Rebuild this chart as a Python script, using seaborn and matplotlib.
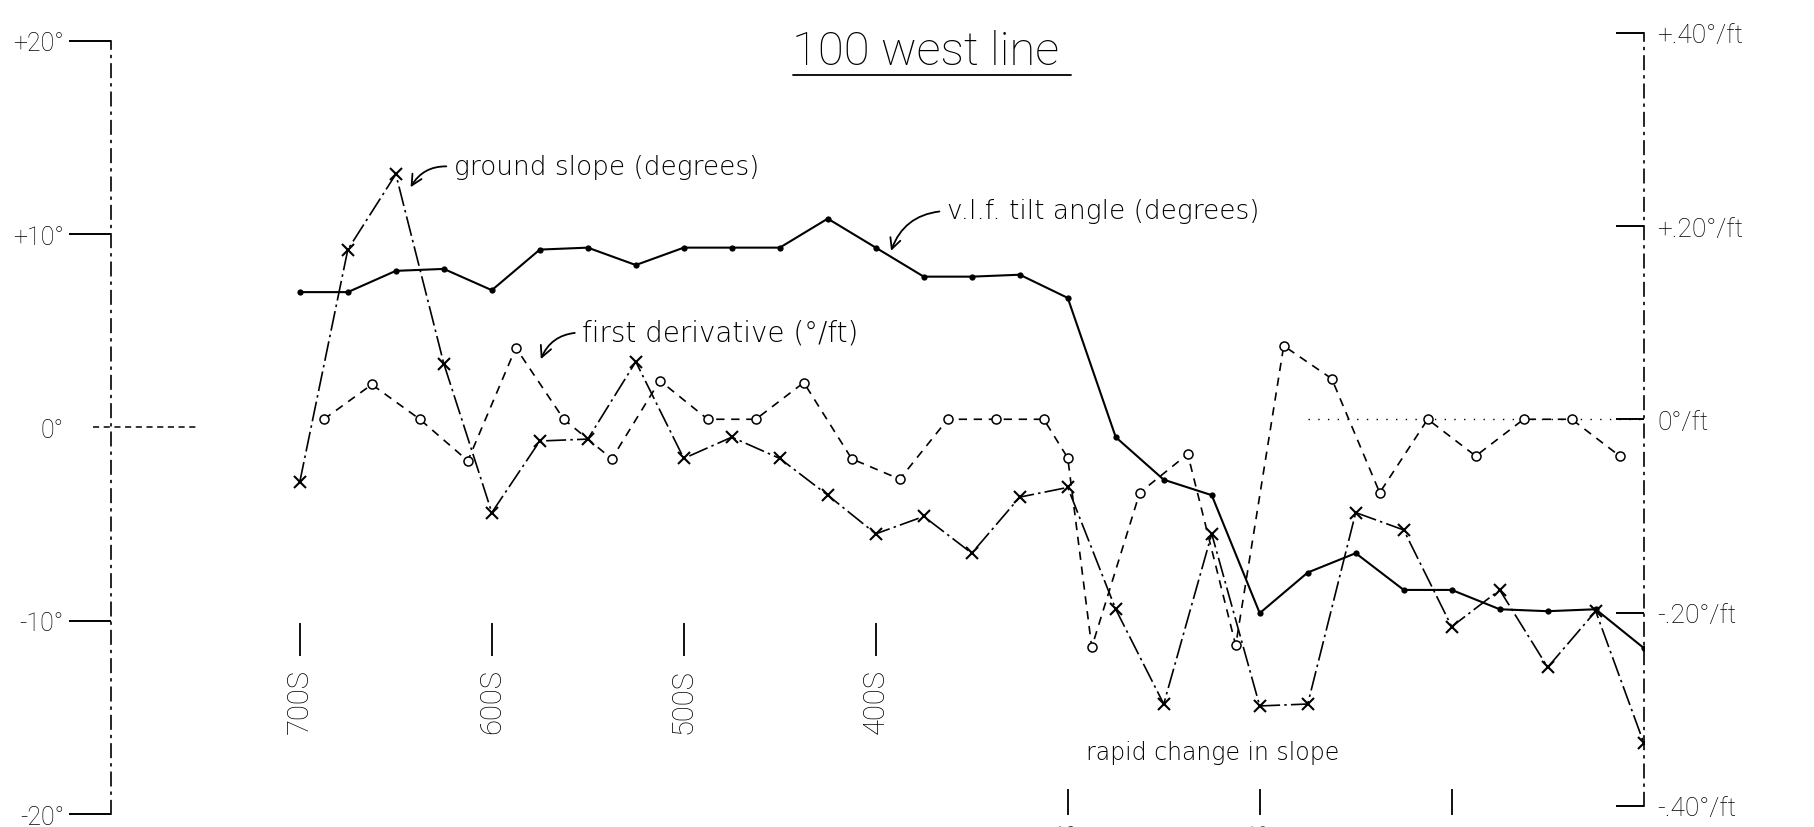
import matplotlib
matplotlib.use("Agg")
import matplotlib.pyplot as plt
import seaborn as sns
from matplotlib.lines import Line2D

# Survey stations along the line (feet south), one reading every 25 ft
stations = [700, 675, 650, 625, 600, 575, 550, 525, 500, 475, 450, 425, 400, 375,
            350, 325, 300, 275, 250, 225, 200, 175, 150, 125, 100, 75, 50, 25, 0]

# v.l.f. tilt angle (degrees)
vlf_tilt = [7.0, 7.0, 8.1, 8.2, 7.1, 9.2, 9.3, 8.4, 9.3, 9.3, 9.3, 10.8, 9.3, 7.8,
            7.8, 7.9, 6.7, -0.5, -2.7, -3.5, -9.6, -7.5, -6.5, -8.4, -8.4, -9.4, -9.5, -9.4, -11.4]

# ground slope (degrees)
ground_slope = [-2.8, 9.2, 13.1, 3.3, -4.4, -0.7, -0.6, 3.4, -1.6, -0.5, -1.6, -3.5, -5.5, -4.6,
                -6.5, -3.6, -3.1, -9.4, -14.3, -5.5, -14.4, -14.3, -4.4, -5.3, -10.3, -8.4, -12.4, -9.5, -16.3]

# first derivative of the tilt angle (deg/ft), plotted between stations
deriv_stations = [687.5, 662.5, 637.5, 612.5, 587.5, 562.5, 537.5, 512.5, 487.5, 462.5,
                  437.5, 412.5, 387.5, 362.5, 337.5, 312.5, 300, 287.5, 262.5, 237.5,
                  212.5, 187.5, 162.5, 137.5, 112.5, 87.5, 62.5, 37.5, 12.5]
first_derivative = [0.0, 0.036, 0.0, -0.043, 0.074, 0.0, -0.041, 0.040, 0.0, 0.0,
                    0.038, -0.041, -0.062, 0.0, 0.0, 0.0, -0.040, -0.236, -0.076, -0.036,
                    -0.234, 0.076, 0.042, -0.076, 0.0, -0.038, 0.0, 0.0, -0.038]

upper_station_ticks = [700, 600, 500, 400]
upper_station_labels = ["700S", "600S", "500S", "400S"]
lower_station_ticks = [300, 200, 100]
lower_station_labels = ["300S", "200S", "100S"]
deg_ticks = [20, 10, 0, -10, -20]
deg_labels = ["+20°", "+10°", "0°", "-10°", "-20°"]
rate_ticks = [0.4, 0.2, 0.0, -0.2, -0.4]
rate_labels = ["+.40°/ft", "+.20°/ft", "0°/ft", "-.20°/ft", "-.40°/ft"]

sns.set_theme(style="white")
plt.rcParams["font.family"] = ["Roboto", "DejaVu Sans"]
plt.rcParams["font.weight"] = "light"
NOTE_FONT = ["DejaVu Sans"]

# layout grid: a 1568 x 715 sheet, converted to figure fractions
SW, SH = 1568.0, 715.0
def fx(px):
    return px / SW
def fy(py):
    return 1.0 - py / SH

INK = "black"
fig = plt.figure(figsize=(18.15, 8.28), dpi=100)
fig.patch.set_facecolor("white")

ax = fig.add_axes([fx(96), fy(710), fx(1420) - fx(96), fy(20) - fy(710)])
ax.set_facecolor("none")
ax.set_xlim(798.3, 0)
ax.set_ylim(-20.36, 20.96)

ax2 = ax.twinx()
ax2.set_ylim(-0.416, 0.411)

# --- series ---
sns.lineplot(x=stations, y=vlf_tilt, ax=ax, sort=False, estimator=None, color=INK,
             lw=1.5, marker="o", markersize=4.5, markeredgewidth=0,
             markerfacecolor=INK, zorder=3)
sns.lineplot(x=stations, y=ground_slope, ax=ax, sort=False, estimator=None, color=INK,
             lw=1.2, linestyle=(0, (12, 2.5, 1.5, 2.5)), marker="x", markersize=8,
             markeredgewidth=1.5, markeredgecolor=INK, zorder=3)
sns.lineplot(x=deriv_stations, y=first_derivative, ax=ax2, sort=False, estimator=None,
             color=INK, lw=1.2, linestyle=(0, (5, 4)), marker="o", markersize=6.5,
             markerfacecolor="white", markeredgecolor=INK, markeredgewidth=1.1, zorder=4)

# --- left scale (degrees) ---
for name, sp in ax.spines.items():
    sp.set_visible(False)
ax.spines["left"].set_visible(True)
ax.spines["left"].set_color(INK)
ax.spines["left"].set_linewidth(1.2)
ax.spines["left"].set_linestyle((0, (8, 4, 1, 4)))
ax.spines["left"].set_bounds(-20, 20)
ax.set_yticks(deg_ticks, deg_labels)
ax.tick_params(axis="y", direction="out", length=30, width=1.4, pad=4,
               labelsize=18, colors=INK, left=True)
ax.yaxis.get_major_ticks()[2].tick1line.set_visible(False)
ax.plot([-0.012, 0.056], [0, 0], transform=ax.get_yaxis_transform(), color=INK,
        lw=1.1, linestyle=(0, (4, 3)), clip_on=False)

# station ticks inside the plotting area
ax.spines["bottom"].set_position(("data", -11.8))
ax.set_xticks(upper_station_ticks, upper_station_labels)
ax.tick_params(axis="x", direction="in", length=24, width=1.3, pad=9,
               labelsize=21, labelrotation=90, colors=INK, bottom=True)
ax.grid(False)

# --- right scale (deg/ft) ---
for name, sp in ax2.spines.items():
    sp.set_visible(False)
ax2.spines["right"].set_visible(True)
ax2.spines["right"].set_color(INK)
ax2.spines["right"].set_linewidth(1.2)
ax2.spines["right"].set_linestyle((0, (8, 4, 1, 4)))
ax2.spines["right"].set_bounds(-0.4, 0.4)
ax2.set_yticks(rate_ticks, rate_labels)
ax2.tick_params(axis="y", direction="in", length=20, width=1.4, pad=10,
                labelsize=19, colors=INK, right=True)
ax2.hlines(0, 175, 0, colors=INK, linestyles=(0, (1, 6)), lw=1.0)
ax2.grid(False)

# --- lower station ticks along the bottom edge ---
ax3 = ax.twiny()
ax3.set_xlim(ax.get_xlim())
for name, sp in ax3.spines.items():
    sp.set_visible(False)
ax3.xaxis.set_ticks_position("bottom")
ax3.spines["bottom"].set_position(("axes", 0.0072))
ax3.set_xticks(lower_station_ticks, lower_station_labels)
ax3.tick_params(axis="x", direction="in", length=19, width=1.3, pad=4,
                labelsize=21, labelrotation=90, colors=INK, bottom=True, top=False,
                labeltop=False, labelbottom=True)
ax3.grid(False)

# --- title and notes ---
fig.text(fx(800), fy(45), "100 west line", ha="center", va="center",
         fontsize=34, color=INK, weight="light")
fig.add_artist(Line2D([fx(685), fx(925)], [fy(66), fy(66)], transform=fig.transFigure,
                      color=INK, lw=1.3))

arrow = dict(arrowstyle="->", lw=1.3, color=INK, connectionstyle="arc3,rad=0.35",
             relpos=(0, 0.5), shrinkA=3, shrinkB=2)
ax.annotate("ground slope (degrees)", xy=(643, 12.3), xycoords="data",
            xytext=(fx(392), fy(145)), textcoords="figure fraction",
            ha="left", va="center", fontsize=19, color=INK, family=NOTE_FONT,
            weight="light", arrowprops=arrow)
ax.annotate("v.l.f. tilt angle (degrees)", xy=(392.5, 9.0), xycoords="data",
            xytext=(fx(818), fy(183)), textcoords="figure fraction",
            ha="left", va="center", fontsize=19, color=INK, family=NOTE_FONT,
            weight="light", arrowprops=arrow)
ax.annotate("first derivative (°/ft)", xy=(575, 3.4), xycoords="data",
            xytext=(fx(503), fy(288)), textcoords="figure fraction",
            ha="left", va="center", fontsize=20, color=INK, family=NOTE_FONT,
            weight="light", arrowprops=arrow)
fig.text(fx(938), fy(650), "rapid change in slope", ha="left", va="center",
         fontsize=17, color=INK, family=NOTE_FONT, weight="light")

fig.savefig("out.png", dpi=100, facecolor="white")
